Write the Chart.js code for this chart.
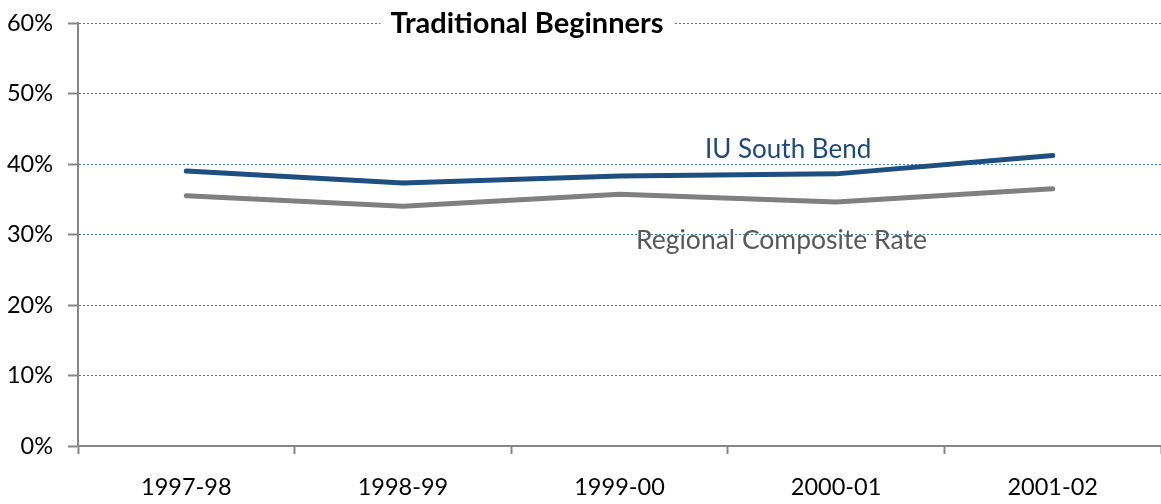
<!DOCTYPE html>
<html>
<head>
<meta charset="utf-8">
<script src="https://cdn.jsdelivr.net/npm/chart.js@4.4.1/dist/chart.umd.min.js"></script>
<style>
  html, body { margin: 0; padding: 0; background: #fff; }
  #wrap { width: 1161px; height: 504px; }
</style>
</head>
<body>
<div id="wrap"><canvas id="c" width="1161" height="504"></canvas></div>
<script>
// years on the x axis
const years = ['1997-98', '1998-99', '1999-00', '2000-01', '2001-02'];

// rates in percent
const iuSouthBend = [39.0, 37.3, 38.3, 38.6, 41.2];
const regionalRate = [35.5, 34.0, 35.7, 34.6, 36.5];

const yTicks = [0, 10, 20, 30, 40, 50, 60];

const FONT = 'Lato, "Open Sans", sans-serif';
const AXIS_GRAY = '#868686';
const GRID_BLUE = '#3F78C0';

// title and series labels drawn on top of the plot
const textPlugin = {
  id: 'texts',
  afterDraw(chart) {
    const ctx = chart.ctx;
    ctx.save();
    // title with white box over the top gridline
    ctx.font = 'bold 29px ' + FONT;
    let title = 'Traditional Beginners';
    let w = ctx.measureText(title).width;
    let cx = 527;
    ctx.fillStyle = '#fff';
    ctx.fillRect(cx - w / 2 - 10, 4, w + 20, 38);
    ctx.fillStyle = '#000';
    ctx.textAlign = 'center';
    ctx.textBaseline = 'alphabetic';
    ctx.fillText(title, cx, 33);

    ctx.textAlign = 'left';
    ctx.font = '26px ' + FONT;
    ctx.fillStyle = '#1F497D';
    ctx.fillText('IU South Bend', 705, 158);
    ctx.font = '26.5px ' + FONT;
    ctx.fillStyle = '#595959';
    ctx.fillText('Regional Composite Rate', 636, 249);
    ctx.restore();
  }
};

let ctx = document.getElementById('c');
let lineChart = new Chart(ctx, {
  type: 'line',
  plugins: [textPlugin],
  data: {
    labels: years,
    datasets: [{
      label: 'IU South Bend',
      data: iuSouthBend,
      borderColor: '#1F4E80',
      borderWidth: 5,
      borderCapStyle: 'round',
      borderJoinStyle: 'round',
      pointRadius: 0,
      tension: 0
    }, {
      label: 'Regional Composite Rate',
      data: regionalRate,
      borderColor: '#808080',
      borderWidth: 5,
      borderCapStyle: 'round',
      borderJoinStyle: 'round',
      pointRadius: 0,
      tension: 0
    }]
  },
  options: {
    responsive: false,
    animation: false,
    layout: { padding: { top: 23, right: 0, bottom: 0, left: 0 } },
    plugins: {
      legend: { display: false },
      tooltip: { enabled: false }
    },
    scales: {
      x: {
        offset: true,
        afterFit(scale) {
          scale.height = 58;
          scale.paddingLeft = 0;
          scale.paddingRight = 0;
        },
        grid: {
          offset: true,
          drawOnChartArea: false,
          drawTicks: true,
          tickLength: 8,
          tickColor: AXIS_GRAY,
          tickWidth: 2
        },
        border: { display: true, color: AXIS_GRAY, width: 2 },
        ticks: {
          color: '#000',
          font: { family: FONT, size: 23.5 },
          padding: 19,
          maxRotation: 0
        }
      },
      y: {
        min: 0,
        max: 60,
        afterFit(scale) {
          scale.width = 78;
          scale.paddingTop = 0;
          scale.paddingBottom = 0;
        },
        afterBuildTicks(scale) {
          scale.ticks = yTicks.map(v => ({ value: v }));
        },
        grid: {
          color: c => (c.tick && c.tick.value === 0) ? 'rgba(0,0,0,0)' : GRID_BLUE,
          lineWidth: 1,
          drawTicks: true,
          tickLength: 10,
          tickColor: AXIS_GRAY,
          tickWidth: 2,
          tickBorderDash: []
        },
        border: { display: true, color: AXIS_GRAY, width: 2, dash: [2, 2] },
        ticks: {
          color: '#000',
          font: { family: FONT, size: 23.5 },
          padding: 15,
          callback: v => v + '%'
        }
      }
    }
  }
});
</script>
</body>
</html>
